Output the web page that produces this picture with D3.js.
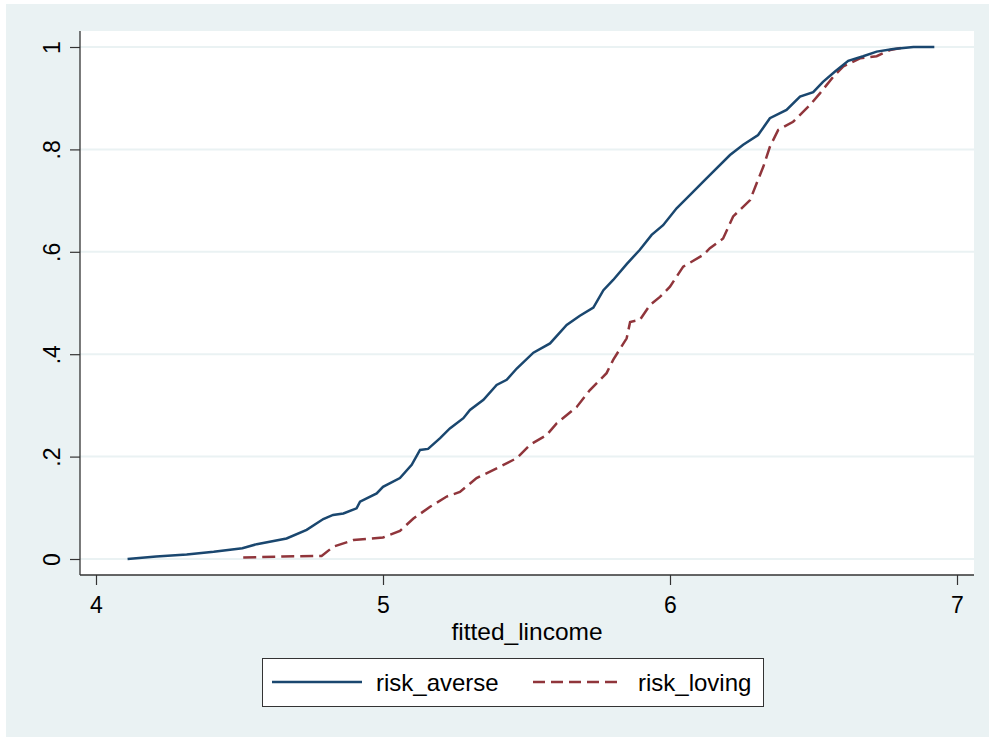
<!DOCTYPE html>
<meta charset="utf-8">
<style>
body { margin: 0; background: #fff; }
text { font-family: "Liberation Sans", Arial, sans-serif; fill: #000; }
</style>
<body>
<svg id="chart"></svg>
<script src="https://d3js.org/d3.v7.min.js"></script>
<script>

var width = 989,
    height = 737;

// cumulative share vs fitted_lincome
var averseX = [4.11, 4.21, 4.316, 4.41, 4.51, 4.56, 4.664, 4.734, 4.792, 4.826, 4.862, 4.908, 4.92, 4.978, 5.0,
  5.059, 5.1, 5.129, 5.157, 5.199, 5.233, 5.28, 5.303, 5.35, 5.396, 5.431, 5.466, 5.524, 5.582, 5.64,
  5.686, 5.733, 5.768, 5.802, 5.849, 5.895, 5.936, 5.976, 6.023, 6.07, 6.128, 6.209, 6.255, 6.307,
  6.348, 6.406, 6.453, 6.499, 6.533, 6.575, 6.621, 6.673, 6.72, 6.778, 6.848, 6.921];
var averseY = [0, 0.005, 0.009, 0.014, 0.021, 0.029, 0.040, 0.057, 0.078, 0.086, 0.089, 0.099, 0.112, 0.128, 0.141,
  0.158, 0.184, 0.213, 0.215, 0.236, 0.255, 0.275, 0.291, 0.311, 0.340, 0.350, 0.372, 0.403, 0.421, 0.457,
  0.475, 0.491, 0.525, 0.545, 0.576, 0.604, 0.633, 0.652, 0.685, 0.711, 0.744, 0.789, 0.809, 0.828,
  0.861, 0.877, 0.903, 0.912, 0.932, 0.952, 0.973, 0.982, 0.991, 0.996, 1.0, 1.0];

var lovingX = [4.513, 4.65, 4.786, 4.827, 4.897, 5.0, 5.059, 5.106, 5.164, 5.222, 5.268, 5.326, 5.396, 5.466,
  5.512, 5.57, 5.605, 5.675, 5.721, 5.779, 5.802, 5.849, 5.861, 5.895, 5.93, 5.965, 6.0, 6.046, 6.116,
  6.139, 6.185, 6.22, 6.279, 6.302, 6.325, 6.348, 6.377, 6.429, 6.488, 6.523, 6.569, 6.604, 6.662,
  6.72, 6.767, 6.813];
var lovingY = [0.003, 0.005, 0.006, 0.024, 0.037, 0.042, 0.055, 0.079, 0.102, 0.122, 0.131, 0.158, 0.177, 0.197,
  0.223, 0.242, 0.265, 0.297, 0.330, 0.363, 0.389, 0.431, 0.463, 0.467, 0.496, 0.512, 0.532, 0.571, 0.594,
  0.607, 0.626, 0.669, 0.701, 0.734, 0.766, 0.805, 0.838, 0.854, 0.887, 0.910, 0.942, 0.962, 0.978,
  0.982, 0.994, 0.999];

var xTicks = [4, 5, 6, 7];
var yTicks = [0, 0.2, 0.4, 0.6, 0.8, 1];
var yTickLabels = ["0", ".2", ".4", ".6", ".8", "1"];
var seriesNames = ["risk_averse", "risk_loving"];
var xTitle = "fitted_lincome";

var svg = d3.select("#chart")
    .attr("width", width)
    .attr("height", height);

// graph region
svg.append("rect")
    .attr("x", 6).attr("y", 4)
    .attr("width", width - 6).attr("height", height - 4)
    .attr("fill", "#eaf2f3");

var plot = { left: 80, right: 974, top: 31, bottom: 575 };

svg.append("rect")
    .attr("x", plot.left).attr("y", plot.top)
    .attr("width", plot.right - plot.left).attr("height", plot.bottom - plot.top)
    .attr("fill", "#fff");

var x = d3.scaleLinear().domain([4, 7]).range([96, 957]);
var y = d3.scaleLinear().domain([0, 1]).range([559, 47]);

// grid
svg.append("g")
  .selectAll("line")
  .data(yTicks)
  .enter().append("line")
    .attr("x1", plot.left).attr("x2", plot.right)
    .attr("y1", function(d) { return y(d); })
    .attr("y2", function(d) { return y(d); })
    .attr("stroke", "#eaf2f3")
    .attr("stroke-width", 2);

// y axis
var yAxis = svg.append("g")
    .attr("transform", "translate(" + plot.left + ",0)")
    .call(d3.axisLeft(y).tickValues(yTicks).tickSize(10).tickPadding(0)
      .tickFormat(function(d, i) { return yTickLabels[i]; }));
yAxis.select(".domain").remove();
yAxis.selectAll(".tick line").attr("stroke", "#333").attr("stroke-width", 1.2);
yAxis.selectAll(".tick text")
    .attr("transform", "translate(-20,0) rotate(-90)")
    .attr("x", 0).attr("y", 0).attr("dy", 0)
    .attr("text-anchor", "middle")
    .style("font-size", "23px")
    .style("font-family", "'Liberation Sans', Arial, sans-serif")
    .attr("fill", "#000");

// x axis
var xAxis = svg.append("g")
    .attr("transform", "translate(0," + plot.bottom + ")")
    .call(d3.axisBottom(x).tickValues(xTicks).tickSize(10).tickFormat(d3.format("d")));
xAxis.select(".domain").remove();
xAxis.selectAll(".tick line").attr("stroke", "#333").attr("stroke-width", 1.2);
xAxis.selectAll(".tick text")
    .attr("y", 38).attr("dy", 0)
    .style("font-size", "23px")
    .style("font-family", "'Liberation Sans', Arial, sans-serif")
    .attr("fill", "#000");

svg.append("line")
    .attr("x1", plot.left).attr("x2", plot.left)
    .attr("y1", plot.top).attr("y2", plot.bottom)
    .attr("stroke", "#333").attr("stroke-width", 1.3);
svg.append("line")
    .attr("x1", plot.left).attr("x2", plot.right)
    .attr("y1", plot.bottom).attr("y2", plot.bottom)
    .attr("stroke", "#333").attr("stroke-width", 1.3);

svg.append("text")
    .attr("x", 527).attr("y", 640)
    .attr("text-anchor", "middle")
    .style("font-size", "24.5px")
    .text(xTitle);

// lines
var line = d3.line()
    .x(function(d) { return x(d[0]); })
    .y(function(d) { return y(d[1]); });

svg.append("path")
    .datum(lovingX.map(function(v, i) { return [v, lovingY[i]]; }))
    .attr("d", line)
    .attr("fill", "none")
    .attr("stroke", "#90353b")
    .attr("stroke-width", 2.5)
    .attr("stroke-dasharray", "13,6");

svg.append("path")
    .datum(averseX.map(function(v, i) { return [v, averseY[i]]; }))
    .attr("d", line)
    .attr("fill", "none")
    .attr("stroke", "#1a476f")
    .attr("stroke-width", 2.5);

// legend
var legend = svg.append("g");
legend.append("rect")
    .attr("x", 262.5).attr("y", 658.5)
    .attr("width", 501).attr("height", 48)
    .attr("fill", "#fff")
    .attr("stroke", "#333")
    .attr("stroke-width", 1);

var keys = [
  { name: seriesNames[0], x0: 272, x1: 362, tx: 376, color: "#1a476f", dash: null },
  { name: seriesNames[1], x0: 533, x1: 623, tx: 638, color: "#90353b", dash: "12,6" }
];
keys.forEach(function(k) {
  legend.append("line")
      .attr("x1", k.x0).attr("x2", k.x1)
      .attr("y1", 682).attr("y2", 682)
      .attr("stroke", k.color)
      .attr("stroke-width", 2.5)
      .attr("stroke-dasharray", k.dash);
  legend.append("text")
      .attr("x", k.tx).attr("y", 691)
      .style("font-size", "24px")
      .text(k.name);
});

</script>
